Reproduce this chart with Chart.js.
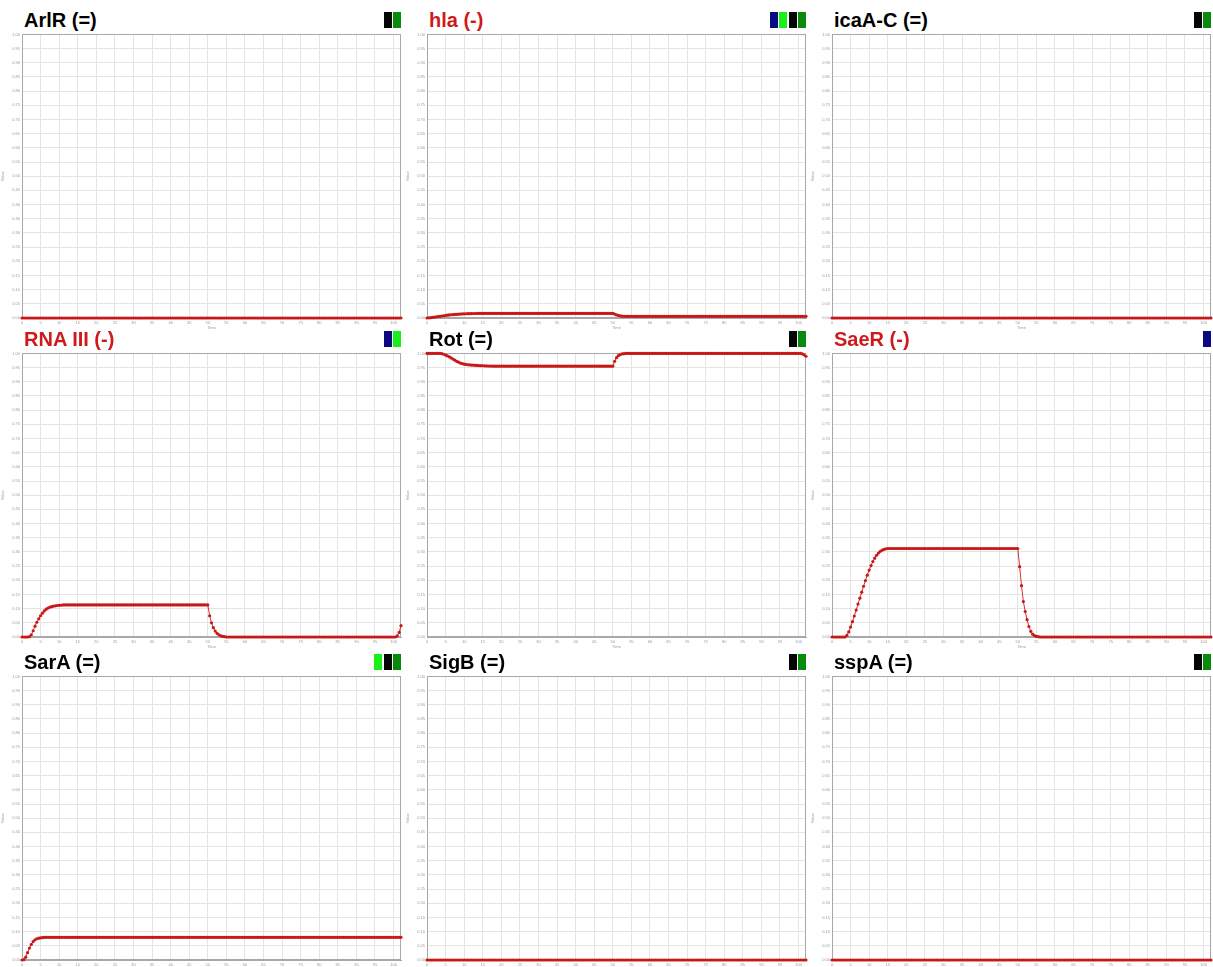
<!DOCTYPE html>
<html>
<head>
<meta charset="utf-8">
<script src="https://cdn.jsdelivr.net/npm/chart.js@4.4.1/dist/chart.umd.min.js"></script>
<style>
  html, body { margin: 0; padding: 0; background: #fff; overflow: hidden; }
  body { width: 1213px; height: 967px; position: relative; font-family: 'Liberation Sans', Arial, sans-serif; }
  .panel { position: absolute; width: 405px; height: 330px; }
  .panel h2 { position: absolute; left: 24px; top: 9.5px; margin: 0; font-size: 20px; line-height: 20px; font-weight: bold; color: #000; white-space: nowrap; }
  .panel h2.down { color: #d0191b; }
  .keys { position: absolute; right: 4px; top: 12px; display: flex; gap: 1.5px; }
  .keys span { display: block; width: 8px; height: 16px; }
  .panel canvas { position: absolute; left: 0; top: 30px; }
</style>
</head>
<body>
<script>
// simulation time, 0.5 steps
const time = [
  0, 0.5, 1, 1.5, 2, 2.5, 3, 3.5, 4, 4.5, 5, 5.5, 6, 6.5, 7, 7.5, 8, 8.5, 9, 9.5,
  10, 10.5, 11, 11.5, 12, 12.5, 13, 13.5, 14, 14.5, 15, 15.5, 16, 16.5, 17, 17.5, 18, 18.5, 19, 19.5,
  20, 20.5, 21, 21.5, 22, 22.5, 23, 23.5, 24, 24.5, 25, 25.5, 26, 26.5, 27, 27.5, 28, 28.5, 29, 29.5,
  30, 30.5, 31, 31.5, 32, 32.5, 33, 33.5, 34, 34.5, 35, 35.5, 36, 36.5, 37, 37.5, 38, 38.5, 39, 39.5,
  40, 40.5, 41, 41.5, 42, 42.5, 43, 43.5, 44, 44.5, 45, 45.5, 46, 46.5, 47, 47.5, 48, 48.5, 49, 49.5,
  50, 50.5, 51, 51.5, 52, 52.5, 53, 53.5, 54, 54.5, 55, 55.5, 56, 56.5, 57, 57.5, 58, 58.5, 59, 59.5,
  60, 60.5, 61, 61.5, 62, 62.5, 63, 63.5, 64, 64.5, 65, 65.5, 66, 66.5, 67, 67.5, 68, 68.5, 69, 69.5,
  70, 70.5, 71, 71.5, 72, 72.5, 73, 73.5, 74, 74.5, 75, 75.5, 76, 76.5, 77, 77.5, 78, 78.5, 79, 79.5,
  80, 80.5, 81, 81.5, 82, 82.5, 83, 83.5, 84, 84.5, 85, 85.5, 86, 86.5, 87, 87.5, 88, 88.5, 89, 89.5,
  90, 90.5, 91, 91.5, 92, 92.5, 93, 93.5, 94, 94.5, 95, 95.5, 96, 96.5, 97, 97.5, 98, 98.5, 99, 99.5,
  100, 100.5, 101, 101.5, 102
];

const arlR = [
  0, 0, 0, 0, 0, 0, 0, 0, 0, 0, 0, 0, 0, 0, 0, 0, 0, 0, 0, 0,
  0, 0, 0, 0, 0, 0, 0, 0, 0, 0, 0, 0, 0, 0, 0, 0, 0, 0, 0, 0,
  0, 0, 0, 0, 0, 0, 0, 0, 0, 0, 0, 0, 0, 0, 0, 0, 0, 0, 0, 0,
  0, 0, 0, 0, 0, 0, 0, 0, 0, 0, 0, 0, 0, 0, 0, 0, 0, 0, 0, 0,
  0, 0, 0, 0, 0, 0, 0, 0, 0, 0, 0, 0, 0, 0, 0, 0, 0, 0, 0, 0,
  0, 0, 0, 0, 0, 0, 0, 0, 0, 0, 0, 0, 0, 0, 0, 0, 0, 0, 0, 0,
  0, 0, 0, 0, 0, 0, 0, 0, 0, 0, 0, 0, 0, 0, 0, 0, 0, 0, 0, 0,
  0, 0, 0, 0, 0, 0, 0, 0, 0, 0, 0, 0, 0, 0, 0, 0, 0, 0, 0, 0,
  0, 0, 0, 0, 0, 0, 0, 0, 0, 0, 0, 0, 0, 0, 0, 0, 0, 0, 0, 0,
  0, 0, 0, 0, 0, 0, 0, 0, 0, 0, 0, 0, 0, 0, 0, 0, 0, 0, 0, 0,
  0, 0, 0, 0, 0
];

const hla = [
  0, 0.0005, 0.001, 0.002, 0.003, 0.004, 0.005, 0.006, 0.007, 0.008, 0.009, 0.010, 0.011, 0.0115, 0.012, 0.0125, 0.013, 0.0135, 0.014, 0.0143,
  0.0146, 0.0149, 0.0152, 0.0154, 0.0156, 0.0158, 0.0159, 0.016, 0.016, 0.016, 0.016, 0.016, 0.016, 0.016, 0.016, 0.016, 0.016, 0.016, 0.016, 0.016,
  0.016, 0.016, 0.016, 0.016, 0.016, 0.016, 0.016, 0.016, 0.016, 0.016, 0.016, 0.016, 0.016, 0.016, 0.016, 0.016, 0.016, 0.016, 0.016, 0.016,
  0.016, 0.016, 0.016, 0.016, 0.016, 0.016, 0.016, 0.016, 0.016, 0.016, 0.016, 0.016, 0.016, 0.016, 0.016, 0.016, 0.016, 0.016, 0.016, 0.016,
  0.016, 0.016, 0.016, 0.016, 0.016, 0.016, 0.016, 0.016, 0.016, 0.016, 0.016, 0.016, 0.016, 0.016, 0.016, 0.016, 0.016, 0.016, 0.016, 0.016,
  0.016, 0.014, 0.011, 0.009, 0.0075, 0.0066, 0.0062, 0.006, 0.006, 0.006, 0.006, 0.006, 0.006, 0.006, 0.006, 0.006, 0.006, 0.006, 0.006, 0.006,
  0.006, 0.006, 0.006, 0.006, 0.006, 0.006, 0.006, 0.006, 0.006, 0.006, 0.006, 0.006, 0.006, 0.006, 0.006, 0.006, 0.006, 0.006, 0.006, 0.006,
  0.006, 0.006, 0.006, 0.006, 0.006, 0.006, 0.006, 0.006, 0.006, 0.006, 0.006, 0.006, 0.006, 0.006, 0.006, 0.006, 0.006, 0.006, 0.006, 0.006,
  0.006, 0.006, 0.006, 0.006, 0.006, 0.006, 0.006, 0.006, 0.006, 0.006, 0.006, 0.006, 0.006, 0.006, 0.006, 0.006, 0.006, 0.006, 0.006, 0.006,
  0.006, 0.006, 0.006, 0.006, 0.006, 0.006, 0.006, 0.006, 0.006, 0.006, 0.006, 0.006, 0.006, 0.006, 0.006, 0.006, 0.006, 0.006, 0.006, 0.006,
  0.006, 0.006, 0.006, 0.006, 0.006
];

const icaAC = [
  0, 0, 0, 0, 0, 0, 0, 0, 0, 0, 0, 0, 0, 0, 0, 0, 0, 0, 0, 0,
  0, 0, 0, 0, 0, 0, 0, 0, 0, 0, 0, 0, 0, 0, 0, 0, 0, 0, 0, 0,
  0, 0, 0, 0, 0, 0, 0, 0, 0, 0, 0, 0, 0, 0, 0, 0, 0, 0, 0, 0,
  0, 0, 0, 0, 0, 0, 0, 0, 0, 0, 0, 0, 0, 0, 0, 0, 0, 0, 0, 0,
  0, 0, 0, 0, 0, 0, 0, 0, 0, 0, 0, 0, 0, 0, 0, 0, 0, 0, 0, 0,
  0, 0, 0, 0, 0, 0, 0, 0, 0, 0, 0, 0, 0, 0, 0, 0, 0, 0, 0, 0,
  0, 0, 0, 0, 0, 0, 0, 0, 0, 0, 0, 0, 0, 0, 0, 0, 0, 0, 0, 0,
  0, 0, 0, 0, 0, 0, 0, 0, 0, 0, 0, 0, 0, 0, 0, 0, 0, 0, 0, 0,
  0, 0, 0, 0, 0, 0, 0, 0, 0, 0, 0, 0, 0, 0, 0, 0, 0, 0, 0, 0,
  0, 0, 0, 0, 0, 0, 0, 0, 0, 0, 0, 0, 0, 0, 0, 0, 0, 0, 0, 0,
  0, 0, 0, 0, 0
];

const rna3 = [
  0, 0, 0, 0, 0.001, 0.008, 0.022, 0.038, 0.052, 0.064, 0.075, 0.084, 0.092, 0.098, 0.102, 0.105, 0.107, 0.109, 0.110, 0.111,
  0.112, 0.112, 0.113, 0.113, 0.113, 0.113, 0.113, 0.113, 0.113, 0.113, 0.113, 0.113, 0.113, 0.113, 0.113, 0.113, 0.113, 0.113, 0.113, 0.113,
  0.113, 0.113, 0.113, 0.113, 0.113, 0.113, 0.113, 0.113, 0.113, 0.113, 0.113, 0.113, 0.113, 0.113, 0.113, 0.113, 0.113, 0.113, 0.113, 0.113,
  0.113, 0.113, 0.113, 0.113, 0.113, 0.113, 0.113, 0.113, 0.113, 0.113, 0.113, 0.113, 0.113, 0.113, 0.113, 0.113, 0.113, 0.113, 0.113, 0.113,
  0.113, 0.113, 0.113, 0.113, 0.113, 0.113, 0.113, 0.113, 0.113, 0.113, 0.113, 0.113, 0.113, 0.113, 0.113, 0.113, 0.113, 0.113, 0.113, 0.113,
  0.113, 0.075, 0.050, 0.033, 0.021, 0.013, 0.008, 0.004, 0.002, 0.001, 0, 0, 0, 0, 0, 0, 0, 0, 0, 0,
  0, 0, 0, 0, 0, 0, 0, 0, 0, 0, 0, 0, 0, 0, 0, 0, 0, 0, 0, 0,
  0, 0, 0, 0, 0, 0, 0, 0, 0, 0, 0, 0, 0, 0, 0, 0, 0, 0, 0, 0,
  0, 0, 0, 0, 0, 0, 0, 0, 0, 0, 0, 0, 0, 0, 0, 0, 0, 0, 0, 0,
  0, 0, 0, 0, 0, 0, 0, 0, 0, 0, 0, 0, 0, 0, 0, 0, 0, 0, 0, 0,
  0, 0, 0.004, 0.016, 0.040
];

const rot = [
  1, 1, 1, 1, 1, 1, 1, 1, 0.999, 0.997, 0.994, 0.991, 0.988, 0.984, 0.980, 0.976, 0.972, 0.969, 0.966, 0.964,
  0.962, 0.961, 0.960, 0.9595, 0.959, 0.9585, 0.958, 0.9575, 0.957, 0.9567, 0.9564, 0.9561, 0.9558, 0.9556, 0.9554, 0.9552, 0.9551, 0.955, 0.955, 0.955,
  0.955, 0.955, 0.955, 0.955, 0.955, 0.955, 0.955, 0.955, 0.955, 0.955, 0.955, 0.955, 0.955, 0.955, 0.955, 0.955, 0.955, 0.955, 0.955, 0.955,
  0.955, 0.955, 0.955, 0.955, 0.955, 0.955, 0.955, 0.955, 0.955, 0.955, 0.955, 0.955, 0.955, 0.955, 0.955, 0.955, 0.955, 0.955, 0.955, 0.955,
  0.955, 0.955, 0.955, 0.955, 0.955, 0.955, 0.955, 0.955, 0.955, 0.955, 0.955, 0.955, 0.955, 0.955, 0.955, 0.955, 0.955, 0.955, 0.955, 0.955,
  0.955, 0.972, 0.985, 0.992, 0.996, 0.998, 0.999, 1, 1, 1, 1, 1, 1, 1, 1, 1, 1, 1, 1, 1,
  1, 1, 1, 1, 1, 1, 1, 1, 1, 1, 1, 1, 1, 1, 1, 1, 1, 1, 1, 1,
  1, 1, 1, 1, 1, 1, 1, 1, 1, 1, 1, 1, 1, 1, 1, 1, 1, 1, 1, 1,
  1, 1, 1, 1, 1, 1, 1, 1, 1, 1, 1, 1, 1, 1, 1, 1, 1, 1, 1, 1,
  1, 1, 1, 1, 1, 1, 1, 1, 1, 1, 1, 1, 1, 1, 1, 1, 1, 1, 1, 1,
  1, 1, 0.998, 0.995, 0.990
];

const saeR = [
  0, 0, 0, 0, 0, 0, 0, 0, 0.006, 0.018, 0.035, 0.054, 0.074, 0.095, 0.116, 0.137, 0.158, 0.179, 0.199, 0.218,
  0.236, 0.252, 0.266, 0.278, 0.288, 0.296, 0.302, 0.306, 0.309, 0.311, 0.312, 0.312, 0.312, 0.312, 0.312, 0.312, 0.312, 0.312, 0.312, 0.312,
  0.312, 0.312, 0.312, 0.312, 0.312, 0.312, 0.312, 0.312, 0.312, 0.312, 0.312, 0.312, 0.312, 0.312, 0.312, 0.312, 0.312, 0.312, 0.312, 0.312,
  0.312, 0.312, 0.312, 0.312, 0.312, 0.312, 0.312, 0.312, 0.312, 0.312, 0.312, 0.312, 0.312, 0.312, 0.312, 0.312, 0.312, 0.312, 0.312, 0.312,
  0.312, 0.312, 0.312, 0.312, 0.312, 0.312, 0.312, 0.312, 0.312, 0.312, 0.312, 0.312, 0.312, 0.312, 0.312, 0.312, 0.312, 0.312, 0.312, 0.312,
  0.312, 0.248, 0.181, 0.125, 0.090, 0.061, 0.037, 0.020, 0.010, 0.005, 0.002, 0.001, 0, 0, 0, 0, 0, 0, 0, 0,
  0, 0, 0, 0, 0, 0, 0, 0, 0, 0, 0, 0, 0, 0, 0, 0, 0, 0, 0, 0,
  0, 0, 0, 0, 0, 0, 0, 0, 0, 0, 0, 0, 0, 0, 0, 0, 0, 0, 0, 0,
  0, 0, 0, 0, 0, 0, 0, 0, 0, 0, 0, 0, 0, 0, 0, 0, 0, 0, 0, 0,
  0, 0, 0, 0, 0, 0, 0, 0, 0, 0, 0, 0, 0, 0, 0, 0, 0, 0, 0, 0,
  0, 0, 0, 0, 0
];

const sarA = [
  0, 0.001, 0.010, 0.026, 0.042, 0.055, 0.065, 0.071, 0.075, 0.077, 0.078, 0.079, 0.0795, 0.08, 0.08, 0.08, 0.08, 0.08, 0.08, 0.08,
  0.08, 0.08, 0.08, 0.08, 0.08, 0.08, 0.08, 0.08, 0.08, 0.08, 0.08, 0.08, 0.08, 0.08, 0.08, 0.08, 0.08, 0.08, 0.08, 0.08,
  0.08, 0.08, 0.08, 0.08, 0.08, 0.08, 0.08, 0.08, 0.08, 0.08, 0.08, 0.08, 0.08, 0.08, 0.08, 0.08, 0.08, 0.08, 0.08, 0.08,
  0.08, 0.08, 0.08, 0.08, 0.08, 0.08, 0.08, 0.08, 0.08, 0.08, 0.08, 0.08, 0.08, 0.08, 0.08, 0.08, 0.08, 0.08, 0.08, 0.08,
  0.08, 0.08, 0.08, 0.08, 0.08, 0.08, 0.08, 0.08, 0.08, 0.08, 0.08, 0.08, 0.08, 0.08, 0.08, 0.08, 0.08, 0.08, 0.08, 0.08,
  0.08, 0.08, 0.08, 0.08, 0.08, 0.08, 0.08, 0.08, 0.08, 0.08, 0.08, 0.08, 0.08, 0.08, 0.08, 0.08, 0.08, 0.08, 0.08, 0.08,
  0.08, 0.08, 0.08, 0.08, 0.08, 0.08, 0.08, 0.08, 0.08, 0.08, 0.08, 0.08, 0.08, 0.08, 0.08, 0.08, 0.08, 0.08, 0.08, 0.08,
  0.08, 0.08, 0.08, 0.08, 0.08, 0.08, 0.08, 0.08, 0.08, 0.08, 0.08, 0.08, 0.08, 0.08, 0.08, 0.08, 0.08, 0.08, 0.08, 0.08,
  0.08, 0.08, 0.08, 0.08, 0.08, 0.08, 0.08, 0.08, 0.08, 0.08, 0.08, 0.08, 0.08, 0.08, 0.08, 0.08, 0.08, 0.08, 0.08, 0.08,
  0.08, 0.08, 0.08, 0.08, 0.08, 0.08, 0.08, 0.08, 0.08, 0.08, 0.08, 0.08, 0.08, 0.08, 0.08, 0.08, 0.08, 0.08, 0.08, 0.08,
  0.08, 0.08, 0.08, 0.08, 0.08
];

const sigB = [
  0, 0, 0, 0, 0, 0, 0, 0, 0, 0, 0, 0, 0, 0, 0, 0, 0, 0, 0, 0,
  0, 0, 0, 0, 0, 0, 0, 0, 0, 0, 0, 0, 0, 0, 0, 0, 0, 0, 0, 0,
  0, 0, 0, 0, 0, 0, 0, 0, 0, 0, 0, 0, 0, 0, 0, 0, 0, 0, 0, 0,
  0, 0, 0, 0, 0, 0, 0, 0, 0, 0, 0, 0, 0, 0, 0, 0, 0, 0, 0, 0,
  0, 0, 0, 0, 0, 0, 0, 0, 0, 0, 0, 0, 0, 0, 0, 0, 0, 0, 0, 0,
  0, 0, 0, 0, 0, 0, 0, 0, 0, 0, 0, 0, 0, 0, 0, 0, 0, 0, 0, 0,
  0, 0, 0, 0, 0, 0, 0, 0, 0, 0, 0, 0, 0, 0, 0, 0, 0, 0, 0, 0,
  0, 0, 0, 0, 0, 0, 0, 0, 0, 0, 0, 0, 0, 0, 0, 0, 0, 0, 0, 0,
  0, 0, 0, 0, 0, 0, 0, 0, 0, 0, 0, 0, 0, 0, 0, 0, 0, 0, 0, 0,
  0, 0, 0, 0, 0, 0, 0, 0, 0, 0, 0, 0, 0, 0, 0, 0, 0, 0, 0, 0,
  0, 0, 0, 0, 0
];

const sspA = [
  0, 0, 0, 0, 0, 0, 0, 0, 0, 0, 0, 0, 0, 0, 0, 0, 0, 0, 0, 0,
  0, 0, 0, 0, 0, 0, 0, 0, 0, 0, 0, 0, 0, 0, 0, 0, 0, 0, 0, 0,
  0, 0, 0, 0, 0, 0, 0, 0, 0, 0, 0, 0, 0, 0, 0, 0, 0, 0, 0, 0,
  0, 0, 0, 0, 0, 0, 0, 0, 0, 0, 0, 0, 0, 0, 0, 0, 0, 0, 0, 0,
  0, 0, 0, 0, 0, 0, 0, 0, 0, 0, 0, 0, 0, 0, 0, 0, 0, 0, 0, 0,
  0, 0, 0, 0, 0, 0, 0, 0, 0, 0, 0, 0, 0, 0, 0, 0, 0, 0, 0, 0,
  0, 0, 0, 0, 0, 0, 0, 0, 0, 0, 0, 0, 0, 0, 0, 0, 0, 0, 0, 0,
  0, 0, 0, 0, 0, 0, 0, 0, 0, 0, 0, 0, 0, 0, 0, 0, 0, 0, 0, 0,
  0, 0, 0, 0, 0, 0, 0, 0, 0, 0, 0, 0, 0, 0, 0, 0, 0, 0, 0, 0,
  0, 0, 0, 0, 0, 0, 0, 0, 0, 0, 0, 0, 0, 0, 0, 0, 0, 0, 0, 0,
  0, 0, 0, 0, 0
];

const genes = ['ArlR (=)', 'hla (-)', 'icaA-C (=)', 'RNA III (-)', 'Rot (=)', 'SaeR (-)', 'SarA (=)', 'SigB (=)', 'sspA (=)'];
const levels = [arlR, hla, icaAC, rna3, rot, saeR, sarA, sigB, sspA];

// little colour keys in the top right corner of each panel
const NAVY = '#0a0a80', LIME = '#19f019', BLACK = '#050505', GREEN = '#0a8a0a';
const keyColors = [
  [BLACK, GREEN],
  [NAVY, LIME, BLACK, GREEN],
  [BLACK, GREEN],
  [NAVY, LIME],
  [BLACK, GREEN],
  [NAVY],
  [LIME, BLACK, GREEN],
  [BLACK, GREEN],
  [BLACK, GREEN]
];

const yTicks = { min: 0, max: 1, step: 0.05 };
const xTicks = { min: 0, max: 102, step: 5 };
const rowTop = [0, 319, 642];

// grey frame around the plot area
const frame = {
  id: 'frame',
  beforeDatasetsDraw(chart) {
    const { ctx, chartArea: a } = chart;
    ctx.save();
    ctx.strokeStyle = '#a8a8a8';
    ctx.lineWidth = 1;
    ctx.strokeRect(Math.round(a.left) + 0.5, Math.round(a.top) + 0.5, Math.round(a.width) - 1, Math.round(a.height) - 1);
    ctx.restore();
  }
};

const tinyFont = { family: "'Liberation Sans', Arial, sans-serif", size: 4 };

genes.forEach((name, i) => {
  const col = i % 3, row = Math.floor(i / 3);
  const panel = document.createElement('div');
  panel.className = 'panel';
  panel.style.left = (col * 405) + 'px';
  panel.style.top = rowTop[row] + 'px';

  const title = document.createElement('h2');
  title.textContent = name;
  if (name.includes('(-)')) title.className = 'down';
  panel.appendChild(title);

  const keys = document.createElement('div');
  keys.className = 'keys';
  keyColors[i].forEach(c => {
    const s = document.createElement('span');
    s.style.background = c;
    keys.appendChild(s);
  });
  panel.appendChild(keys);

  const canvas = document.createElement('canvas');
  canvas.width = 405;
  canvas.height = 300;
  panel.appendChild(canvas);
  document.body.appendChild(panel);

  new Chart(canvas.getContext('2d'), {
    type: 'line',
    data: {
      datasets: [{
        data: time.map((t, k) => ({ x: t, y: levels[i][k] })),
        borderColor: '#d03030',
        borderWidth: 1,
        pointRadius: 1.6,
        pointBorderWidth: 0,
        pointBackgroundColor: '#c81818',
        tension: 0,
        clip: false
      }]
    },
    options: {
      responsive: false,
      animation: false,
      layout: { padding: { top: 3, right: 3, left: 0, bottom: 0 } },
      plugins: { legend: { display: false }, tooltip: { enabled: false } },
      scales: {
        x: {
          type: 'linear',
          min: xTicks.min,
          max: xTicks.max,
          grid: { color: '#e4e4e4', drawTicks: false },
          border: { color: '#a8a8a8' },
          ticks: { stepSize: xTicks.step, includeBounds: false, autoSkip: false, maxRotation: 0, padding: 2, font: tinyFont, color: '#9a9a9a' },
          title: { display: true, text: 'Time', font: tinyFont, color: '#9a9a9a', padding: 0 },
          afterFit: s => { s.height = 12; }
        },
        y: {
          min: yTicks.min,
          max: yTicks.max,
          grid: { color: '#e4e4e4', drawTicks: false },
          border: { color: '#a8a8a8' },
          ticks: { stepSize: yTicks.step, autoSkip: false, padding: 2, font: tinyFont, color: '#9a9a9a', callback: v => v.toFixed(2) },
          title: { display: true, text: 'Value', font: tinyFont, color: '#9a9a9a', padding: 0 },
          afterFit: s => { s.width = 22; }
        }
      }
    },
    plugins: [frame]
  });
});
</script>
</body>
</html>
